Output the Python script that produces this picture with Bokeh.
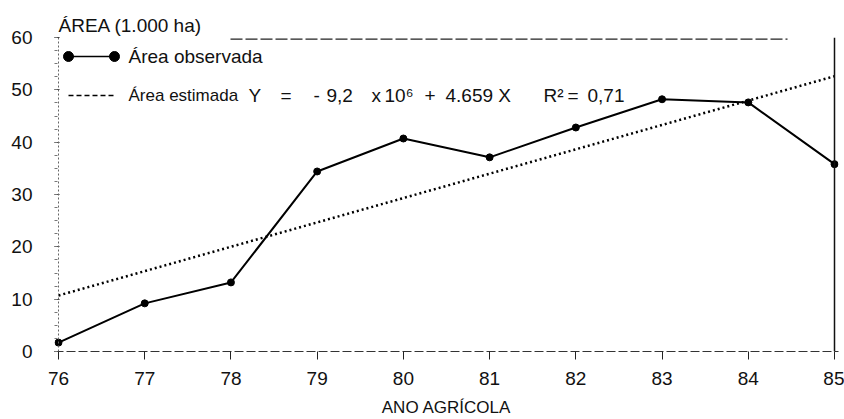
from bokeh.plotting import figure
from bokeh.models import Label, Span, Range1d, FixedTicker
from bokeh.embed import file_html
from bokeh.resources import INLINE

# ---- data ----
years = [76, 77, 78, 79, 80, 81, 82, 83, 84, 85]
area_observada = [1.7, 9.2, 13.2, 34.4, 40.7, 37.1, 42.8, 48.2, 47.6, 35.8]
trend_years = [76, 85]
area_estimada = [10.7, 52.6]
x_ticks = [76, 77, 78, 79, 80, 81, 82, 83, 84, 85]
y_ticks = [0, 10, 20, 30, 40, 50, 60]
y_title = "ÁREA (1.000 ha)"
x_title = "ANO AGRÍCOLA"
legend_obs = "Área observada"
legend_est = "Área estimada"
# equation pieces, with their left pixel positions (layout only)
eq_pieces = [("Y", 248), ("=", 280), ("-", 313), ("9,2", 326), ("x", 371),
             ("10\u2076", 384), ("+", 424), ("4.659\u00a0X", 445),
             ("R\u00b2", 543), ("=", 567), ("0,71", 587)]

FONT = "Liberation Sans"
W, H = 844, 419
# pixel geometry of the frame
FL, FR, FT, FB = 54, 838, 37, 351
X0PX, X1PX = 58, 834
sx = (X1PX - X0PX) / (x_ticks[-1] - x_ticks[0])
x_start = x_ticks[0] - (X0PX - FL) / sx
x_end = x_ticks[-1] + (FR - X1PX) / sx
sy = (FB - FT) / 60.0

def px2x(px):
    return x_ticks[0] + (px - X0PX) / sx

def py2y(py):
    return (FB - py) / sy

p = figure(width=W, height=H, output_backend="svg", toolbar_location=None,
           x_range=Range1d(x_start, x_end), y_range=Range1d(0, 60),
           min_border_left=FL, min_border_right=W - FR,
           min_border_top=FT, min_border_bottom=H - FB,
           title=y_title)
p.outline_line_color = None
p.xgrid.visible = False
p.ygrid.visible = False
p.background_fill_color = "white"
p.border_fill_color = "white"

# title used as the vertical-axis heading (top left)
p.title.align = "left"
p.title.offset = 4
p.title.standoff = 3
p.title.text_font = FONT
p.title.text_font_size = "19px"
p.title.text_font_style = "normal"
p.title.text_color = "#111111"

# x axis
xa = p.xaxis[0]
xa.ticker = FixedTicker(ticks=x_ticks)
xa.major_tick_out = 8
xa.major_tick_in = 0
xa.minor_tick_out = 0
xa.minor_tick_in = 0
xa.axis_line_color = "#333333"
xa.axis_line_dash = "9 3"
xa.major_tick_line_color = "#222222"
xa.major_label_text_font = FONT
xa.major_label_text_font_size = "19px"
xa.major_label_text_color = "#111111"
xa.major_label_standoff = 12
xa.axis_label = x_title
xa.axis_label_text_font = FONT
xa.axis_label_text_font_size = "17px"
xa.axis_label_text_font_style = "normal"
xa.axis_label_text_color = "#111111"
xa.axis_label_standoff = 10

# y axis
ya = p.yaxis[0]
ya.ticker = FixedTicker(ticks=y_ticks, minor_ticks=[i * 2.5 for i in range(25)])
ya.axis_line_color = None
ya.major_tick_in = 5
ya.major_tick_out = 0
ya.minor_tick_in = 3
ya.minor_tick_out = 0
ya.major_tick_line_color = "#333333"
ya.minor_tick_line_color = "#777777"
ya.major_label_text_font = FONT
ya.major_label_text_font_size = "19px"
ya.major_label_text_color = "#111111"
ya.major_label_standoff = 22

# frame decorations
p.add_layout(Span(location=x_ticks[0], dimension="height", line_color="#666666",
                  line_dash="2 2", line_width=1))
p.add_layout(Span(location=x_ticks[-1], dimension="height", line_color="#111111",
                  line_width=1.5))
p.segment(x0=[px2x(230)], y0=[59.7], x1=[px2x(787)], y1=[59.7],
          line_color="#222222", line_width=1.2, line_dash="12 3")

# data
p.line(trend_years, area_estimada, line_color="black", line_width=2.5, line_dash="2 3")
p.line(years, area_observada, line_color="black", line_width=2)
p.scatter(years, area_observada, size=7, marker="circle", fill_color="black", line_color="black")

# manual legend
ly1, ly2 = py2y(56), py2y(95)
p.line([px2x(68), px2x(114)], [ly1, ly1], line_color="black", line_width=1.5)
p.scatter([px2x(68), px2x(114)], [ly1, ly1], size=10, marker="circle",
          fill_color="black", line_color="black")
p.line([px2x(68), px2x(115)], [ly2, ly2], line_color="black", line_width=1.5, line_dash="5 3")
p.add_layout(Label(x=px2x(128), y=ly1, text=legend_obs, text_font=FONT, text_font_size="19px",
                   text_color="#111111", text_baseline="middle", text_align="left"))
p.add_layout(Label(x=px2x(128), y=ly2, text=legend_est, text_font=FONT, text_font_size="17px",
                   text_color="#111111", text_baseline="middle", text_align="left"))
for txt, px in eq_pieces:
    p.add_layout(Label(x=px2x(px), y=ly2, text=txt, text_font=FONT, text_font_size="19px",
                       text_color="#111111", text_baseline="middle", text_align="left"))

open("out.html", "w").write(file_html(p, INLINE))
